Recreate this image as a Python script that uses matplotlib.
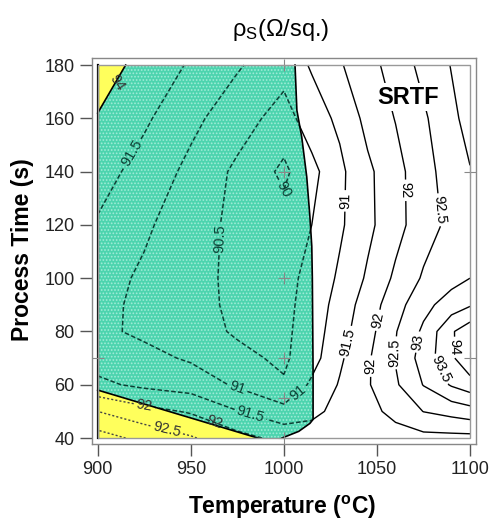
import numpy as np
import matplotlib.pyplot as plt
from matplotlib.patches import Polygon, Rectangle

plt.rcParams['font.family'] = 'Liberation Sans'
plt.rcParams['mathtext.fontset'] = 'custom'
plt.rcParams['mathtext.rm'] = 'Liberation Sans'
plt.rcParams['mathtext.it'] = 'Liberation Sans:italic'
plt.rcParams['mathtext.bf'] = 'Liberation Sans:bold'
plt.rcParams['hatch.linewidth'] = 0.8

# sheet resistance (rows = time, cols = temperature)
temps = [900, 925, 950, 975, 1000, 1015, 1030, 1045, 1060, 1075, 1090, 1100]
times = [40, 50, 60, 70, 80, 90, 100, 120, 140, 160, 180]
rs = np.array([
    [93.21, 92.86, 92.55, 92.17, 91.85, 91.70, 91.65, 91.70, 91.80, 91.85, 91.85, 91.85],
    [92.50, 92.16, 91.95, 91.52, 91.17, 91.40, 91.62, 91.85, 92.14, 92.51, 92.67, 92.79],
    [91.60, 91.40, 91.28, 90.93, 90.55, 91.09, 91.54, 91.95, 92.43, 93.02, 93.55, 93.79],
    [91.30, 91.14, 90.94, 90.61, 90.42, 90.80, 91.42, 91.93, 92.53, 93.21, 93.91, 94.40],
    [91.10, 90.91, 90.67, 90.45, 90.40, 90.73, 91.31, 91.81, 92.47, 93.09, 93.94, 94.30],
    [91.15, 90.88, 90.63, 90.42, 90.38, 90.68, 91.21, 91.73, 92.30, 92.85, 93.23, 93.45],
    [91.20, 90.92, 90.64, 90.40, 90.35, 90.64, 91.08, 91.57, 92.09, 92.56, 92.83, 93.00],
    [91.45, 91.08, 90.71, 90.38, 90.20, 90.50, 90.92, 91.38, 91.83, 92.28, 92.63, 92.80],
    [91.71, 91.30, 90.88, 90.40, 89.90, 90.35, 90.89, 91.40, 91.83, 92.31, 92.74, 92.98],
    [91.75, 91.58, 91.12, 90.73, 90.29, 90.77, 91.10, 91.65, 92.02, 92.42, 92.90, 93.15],
    [91.95, 91.80, 91.45, 91.05, 90.70, 91.05, 91.45, 91.83, 92.20, 92.65, 93.02, 93.30],
])
levels = [90, 90.5, 91, 91.5, 92, 92.5, 93, 93.5, 94]

# process window (green) and excluded corners (yellow)
window_T = [900, 915, 1006, 1007, 1009.6, 1012.3, 1014, 1015, 1015.3, 1015.7, 1015.7, 1014, 1008, 999, 986, 900]
window_t = [162, 180, 180, 163, 153, 138, 123, 112, 100, 65, 47, 45.5, 42.5, 40, 40, 58]
corner_top_T = [900, 900, 915]
corner_top_t = [162, 180, 180]
corner_bot_T = [900, 986, 900]
corner_bot_t = [58, 40, 40]

# design points
pts_T = [1000, 1000, 1000, 1000, 1000, 1000, 900, 1100, 1100]
pts_t = [180, 140, 100, 70, 55, 40, 70, 140, 70]

fig = plt.figure(figsize=(4.92, 5.23), dpi=100)
ax = fig.add_axes([0.187, 0.151, 0.7805, 0.738])
TT, tt = np.meshgrid(temps, times)

fmt = lambda v: f'{v:g}'
lab_size = 10.5

# solid contours outside the window
cs = ax.contour(TT, tt, rs, levels=levels, colors='black', linewidths=1.0, zorder=1)
ax.clabel(cs, levels=levels, inline=True, fontsize=lab_size, fmt=fmt, inline_spacing=3,
          manual=[(1034.5, 129), (1034.5, 76), (1067, 133), (1052, 84), (1046, 67),
                  (1083, 125.6), (1059, 72), (1072, 76), (1083, 65.5), (1090, 74)])

win = Polygon(np.column_stack([window_T, window_t]), closed=True, facecolor='#4cd4ae',
              edgecolor='none', zorder=2)
ax.add_patch(win)
ax.add_patch(Polygon(np.column_stack([window_T, window_t]), closed=True, facecolor='none',
                     edgecolor='#a0ecd8', hatch='.....', linewidth=0, zorder=2))
ytop = Polygon(np.column_stack([corner_top_T, corner_top_t]), closed=True,
               facecolor='#ffff5c', edgecolor='none', zorder=2)
ybot = Polygon(np.column_stack([corner_bot_T, corner_bot_t]), closed=True,
               facecolor='#ffff5c', edgecolor='none', zorder=2)
ax.add_patch(ytop)
ax.add_patch(ybot)

# dashed contours inside the window
csw = ax.contour(TT, tt, rs, levels=levels, colors='#0c3f34', linewidths=1.1,
                 linestyles=[(0, (3, 1.5))], zorder=3)
csw.set_clip_path(win)
ax.clabel(csw, levels=levels, inline=True, fontsize=lab_size, fmt=fmt, inline_spacing=3,
          colors='#0c3f34',
          manual=[(918.5, 147), (963, 115), (1000, 133), (975, 59), (1008.7, 56), (982, 48.6)])

csy = ax.contour(TT, tt, rs, levels=levels, colors='#444444', linewidths=1.0,
                 linestyles=[(0, (1.5, 1.5))], zorder=3)
csy.set_clip_path(ybot)
ax.clabel(csy, levels=levels, inline=True, fontsize=lab_size, fmt=fmt, inline_spacing=3,
          colors='#333333', manual=[(925, 52), (937, 43), (963, 46)])

# region outlines
ax.plot(window_T[2:14], window_t[2:14], color='black', lw=1.2, zorder=4)
ax.plot([corner_top_T[0], corner_top_T[2]], [corner_top_t[0], corner_top_t[2]], color='black', lw=1.2, zorder=4)
ax.plot([corner_bot_T[0], corner_bot_T[1]], [corner_bot_t[0], corner_bot_t[1]], color='black', lw=1.2, zorder=4)
ax.plot([900, 900], [40, 180], color='black', lw=1.6, zorder=4)
ax.text(910.5, 173.5, '94', rotation=-57, fontsize=lab_size, color='#333333', ha='center', va='center', zorder=4)

ax.plot(pts_T, pts_t, '+', color='#888888', ms=8, mew=0.8, zorder=5, clip_on=False)

ax.add_patch(Rectangle((900, 40), 200, 140, fill=False, edgecolor='#999999', lw=1, zorder=5))

ax.text(1066.7, 168, 'SRTF', fontsize=17, fontweight='bold', ha='center', va='center', zorder=6,
        bbox=dict(facecolor='white', edgecolor='none', pad=2))

ax.set_xlim(896.94, 1103.22)
ax.set_ylim(37.75, 182.63)
ax.set_xticks([900, 950, 1000, 1050, 1100])
ax.set_yticks([40, 60, 80, 100, 120, 140, 160, 180])
ax.tick_params(direction='out', length=8.5, width=1, color='#555555', labelsize=13,
               labelcolor='#222222', pad=4)
for sp in ax.spines.values():
    sp.set_color('#888888')
    sp.set_linewidth(1)

fig.text(0.57, 0.942, r'ρ$_{\rm S}$(Ω/sq.)', fontsize=17, ha='center', va='center')
fig.text(0.573, 0.029, r'Temperature ($\mathbf{^o}$C)', fontsize=16.5, fontweight='bold',
         ha='center', va='center')
fig.text(0.045, 0.522, 'Process Time (s)', fontsize=16.5, fontweight='bold', rotation=90,
         ha='center', va='center')

fig.savefig('out.png', dpi=100)
